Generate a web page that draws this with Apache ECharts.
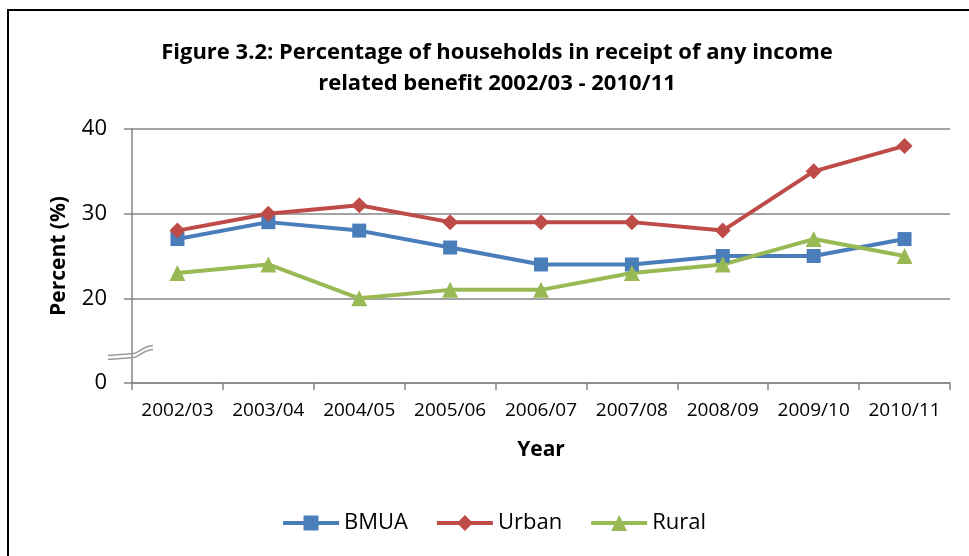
<!DOCTYPE html>
<html>
<head>
<meta charset="utf-8">
<script src="https://cdn.jsdelivr.net/npm/echarts@6/dist/echarts.min.js"></script>
<style>
  html, body { margin: 0; padding: 0; background: #fff; }
  #chart { width: 969px; height: 556px; }
</style>
</head>
<body>
<div id="chart"></div>
<script>
// Survey years
const years = ['2002/03', '2003/04', '2004/05', '2005/06', '2006/07', '2007/08', '2008/09', '2009/10', '2010/11'];
// Percentage of households receiving an income related benefit
const bmua  = [27, 29, 28, 26, 24, 24, 25, 25, 27];
const urban = [28, 30, 31, 29, 29, 29, 28, 35, 38];
const rural = [23, 24, 20, 21, 21, 23, 24, 27, 25];
// The value axis is broken: the lowest tick stands for zero
const axisFloor = 10;
const yTickLabels = { 10: '0', 20: '20', 30: '30', 40: '40' };

const FONT = '"Open Sans", Lato, sans-serif';
const chart = echarts.init(document.getElementById('chart'));

// Legend icons: a thick line segment with the series marker in the middle
const LINE_PART = 'M0 6 H56 V10 H0 Z ';
const legendIcons = {
  BMUA:  'path://' + LINE_PART + 'M20.5 0.5 H35.5 V15.5 H20.5 Z',
  Urban: 'path://' + LINE_PART + 'M20 8 L28 0 L36 8 L28 16 Z',
  Rural: 'path://' + LINE_PART + 'M20 16 L28 0 L36 16 Z'
};

function lineSeries(name, data, color, symbol, size) {
  return {
    name, type: 'line', data,
    symbol, symbolSize: size,
    lineStyle: { color, width: 4 },
    itemStyle: { color },
    emphasis: { disabled: true },
    animation: false
  };
}

const frame = { type: 'rect', shape: { x: 8, y: 10, width: 980, height: 560 },
  style: { fill: 'none', stroke: '#000', lineWidth: 2 }, silent: true };

chart.setOption({
  backgroundColor: '#fff',
  animation: false,
  title: {
    text: 'Figure 3.2: Percentage of households in receipt of any income\nrelated benefit 2002/03 - 2010/11',
    left: 492, top: 32, textAlign: 'center',
    textStyle: { fontFamily: FONT, fontWeight: 'bold', fontSize: 22, lineHeight: 31, color: '#000' }
  },
  legend: {
    bottom: 22, left: 283, padding: 0,
    itemWidth: 56, itemHeight: 16, itemGap: 29,
    textStyle: { fontFamily: FONT, fontSize: 22, color: '#000' },
    data: ['BMUA', 'Urban', 'Rural'].map(n => ({ name: n, icon: legendIcons[n] }))
  },
  grid: { left: 132, right: 19, top: 129, bottom: 173 },
  xAxis: {
    type: 'category', data: years, boundaryGap: true,
    name: 'Year', nameLocation: 'middle', nameGap: 57,
    nameTextStyle: { fontFamily: FONT, fontWeight: 'bold', fontSize: 21, color: '#000' },
    axisLine: { lineStyle: { color: '#868686', width: 1.5 } },
    axisTick: { show: true, length: 7, lineStyle: { color: '#868686', width: 1.5 } },
    axisLabel: { fontFamily: FONT, fontSize: 19, color: '#000', margin: 18, interval: 0, hideOverlap: false }
  },
  yAxis: {
    type: 'value', min: axisFloor, max: 40, interval: 10,
    name: 'Percent (%)', nameLocation: 'middle', nameGap: 62, nameRotate: 90,
    nameTextStyle: { fontFamily: FONT, fontWeight: 'bold', fontSize: 21, color: '#000' },
    axisLine: { show: true, lineStyle: { color: '#868686', width: 1.5 } },
    axisTick: { show: true, length: 8, lineStyle: { color: '#868686', width: 1.5 } },
    axisLabel: {
      fontFamily: FONT, fontSize: 22, color: '#000', margin: 25,
      formatter: v => yTickLabels[v] !== undefined ? yTickLabels[v] : ''
    },
    splitLine: { lineStyle: { color: '#868686', width: 1.5 } }
  },
  series: [
    lineSeries('BMUA', bmua, '#4a7ebb', 'rect', 14),
    lineSeries('Urban', urban, '#be4b48', 'diamond', 16),
    lineSeries('Rural', rural, '#98b954', 'triangle', 16)
  ],
  graphic: [frame]
});

// Axis-break marker drawn just above the lowest tick
const p = chart.convertToPixel({ gridIndex: 0 }, [0, 13.6]);
const bx = 132, by = p[1];
function breakMark(dy) {
  const st = { stroke: '#9a9a9a', lineWidth: 1.5, fill: 'none' };
  return [
    { type: 'line', silent: true, z: 100,
      shape: { x1: bx - 24, y1: by + 3 + dy, x2: bx + 2, y2: by + 1 + dy }, style: st },
    { type: 'bezierCurve', silent: true, z: 100,
      shape: { x1: bx + 2, y1: by + 1 + dy, cpx1: bx + 8, cpy1: by + dy,
               cpx2: bx + 10, cpy2: by - 6 + dy, x2: bx + 21, y2: by - 7 + dy }, style: st }
  ];
}
chart.setOption({
  graphic: [frame].concat(breakMark(0), breakMark(4))
});
</script>
</body>
</html>
